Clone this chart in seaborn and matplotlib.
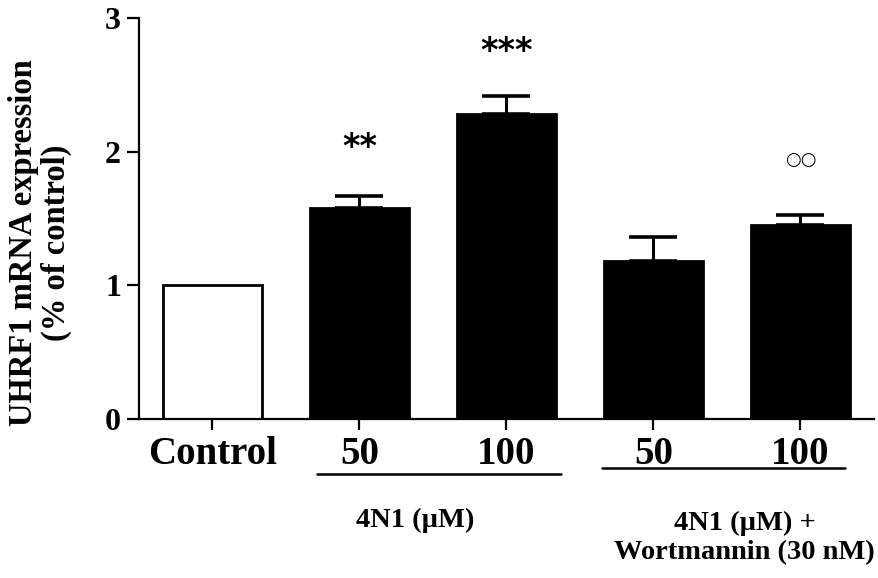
import numpy as np
import pandas as pd
import seaborn as sns
import matplotlib.pyplot as plt
import matplotlib.transforms as mtransforms

# data
conditions = ["Control", "50", "100", "50 ", "100 "]
tick_labels = ["Control", "50", "100", "50", "100"]
expression = [1.0, 1.575, 2.28, 1.18, 1.45]
sem = [0.0, 0.09, 0.14, 0.18, 0.075]
bar_colors = ["white", "black", "black", "black", "black"]
marks = ["", "**", "***", "", "\u25cb\u25cb"]
mark_heights = [0, 2.03, 2.75, 0, 1.94]
groups = ["4N1 (\u00b5M)", "4N1 (\u00b5M) +\nWortmannin (30 nM)"]

df = pd.DataFrame({"Condition": conditions, "Expression": expression})

sns.set_theme(style="ticks")
plt.rcParams["font.family"] = ["Liberation Serif", "DejaVu Serif"]
plt.rcParams["font.weight"] = "bold"
plt.rcParams["text.color"] = "black"
plt.rcParams["xtick.color"] = "black"
plt.rcParams["ytick.color"] = "black"

fig = plt.figure(figsize=(8.79, 5.78), dpi=100)
ax = fig.add_axes([139 / 879, 1 - 419 / 578, (874 - 139) / 879, 401 / 578])

sns.barplot(data=df, x="Condition", y="Expression", hue="Condition",
            palette=bar_colors, edgecolor="black", linewidth=2,
            width=0.68, errorbar=None, legend=False, ax=ax)

x = np.arange(len(conditions))
ax.errorbar(x[1:], expression[1:], yerr=[np.zeros(4), sem[1:]], fmt="none",
            ecolor="black", elinewidth=2.2, capsize=17, capthick=2.6)

ax.set_xlim(-0.5, 4.5)
ax.set_ylim(0, 3)
ax.set_yticks([0, 1, 2, 3])
ax.set_yticklabels(["0", "1", "2", "3"], fontsize=23, fontweight="bold")
ax.set_xticks(x)
ax.set_xticklabels(tick_labels, fontsize=28, fontweight="bold")
ax.tick_params(axis="y", length=9, width=1.6, colors="black", pad=4)
ax.tick_params(axis="x", length=8, width=1.6, colors="black", pad=4)
ax.set_xlabel("")
ax.set_ylabel("")
sns.despine(ax=ax)
for s in ["left", "bottom"]:
    ax.spines[s].set_linewidth(1.6)
    ax.spines[s].set_color("black")

# significance marks
for xi, m, h in zip(x, marks, mark_heights):
    if "*" in m:
        ax.text(xi, h, m, ha="center", va="center", fontsize=24,
                family="DejaVu Sans", fontweight="bold")
    elif m:
        ax.text(xi, h, m, ha="center", va="center", fontsize=13,
                family="DejaVu Sans", fontweight="normal")

# group lines and labels under the axis
trans = mtransforms.blended_transform_factory(ax.transData, ax.transAxes)
ax.plot([0.714, 2.374], [-0.137, -0.137], color="black", lw=1.8,
        transform=trans, clip_on=False)
ax.plot([2.653, 4.306], [-0.122, -0.122], color="black", lw=1.8,
        transform=trans, clip_on=False)
ax.text(1.38, -0.254, groups[0], ha="center", va="center", fontsize=20.5,
        fontweight="bold", transform=trans)
ax.text(3.62, -0.296, groups[1], ha="center", va="center", fontsize=20.5,
        fontweight="bold", transform=trans, linespacing=1.2)

fig.text(40 / 879, 1 - 243 / 578, "UHRF1 mRNA expression\n(% of control)",
         rotation=90, ha="center", va="center", fontsize=23.5, fontweight="bold",
         linespacing=1.1)

fig.savefig("out.png", dpi=100)
